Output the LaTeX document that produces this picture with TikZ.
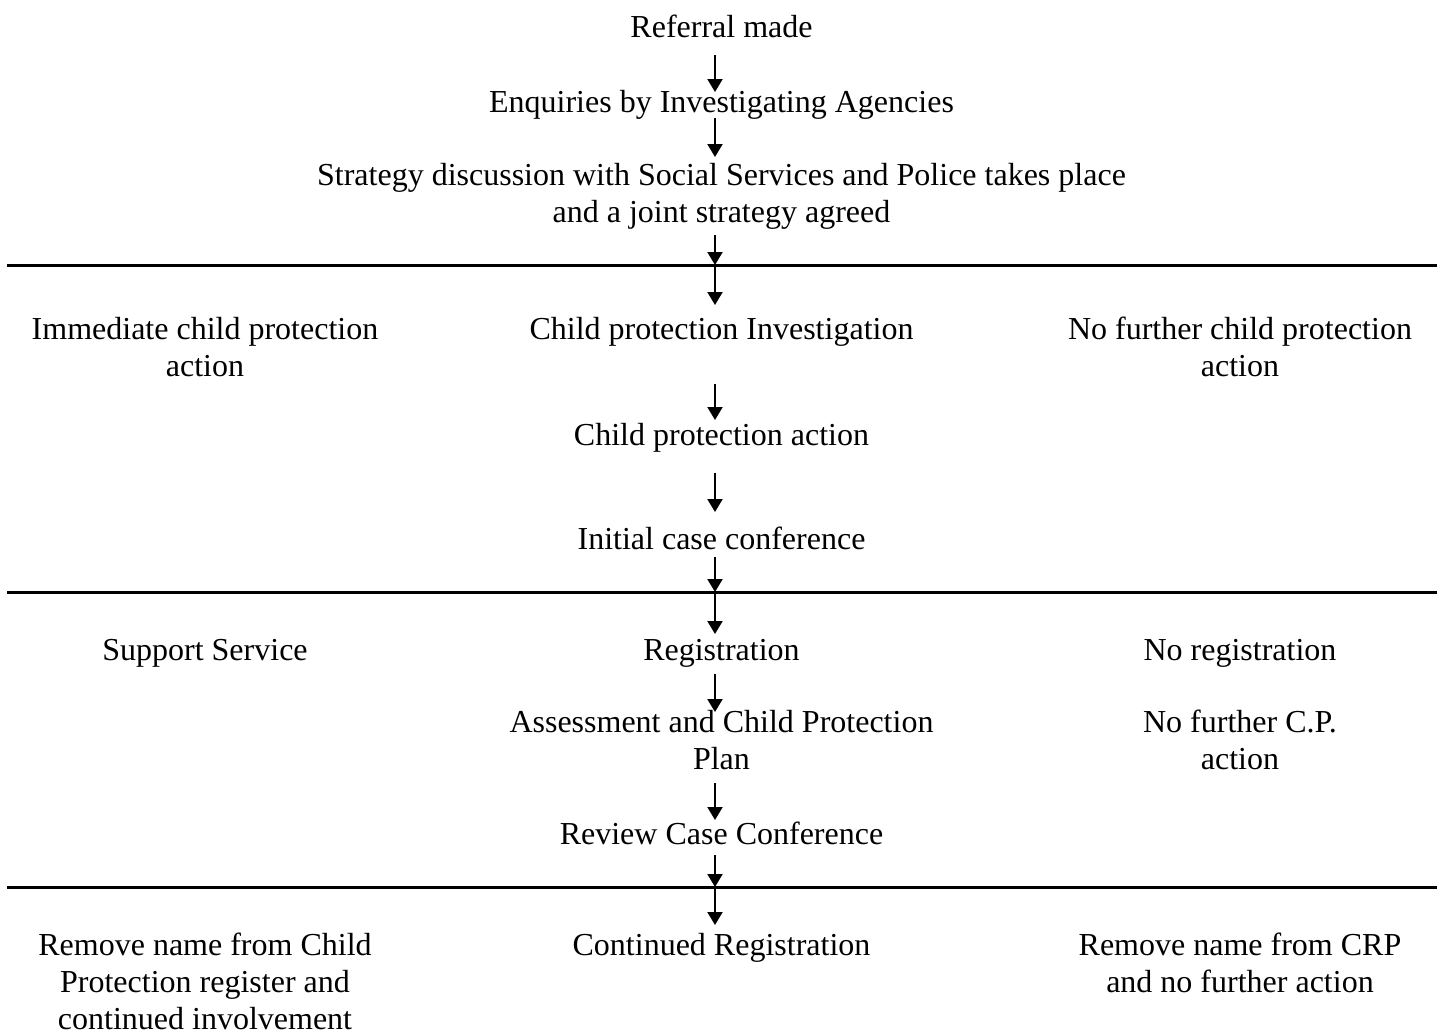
\documentclass[tikz,border=0pt]{standalone}
\usepackage{fontspec}
\setmainfont{Liberation Serif}
\usetikzlibrary{arrows.meta,calc}
\begin{document}
\begin{tikzpicture}[x=0.01cm,y=-0.01cm]

      % Every label is placed by the baseline of its last line, with no padding round it
      \tikzstyle{stage}=[anchor=base, inner sep=0pt, align=center, font=\fontsize{9.1pt}{10.5pt}\selectfont]
      \tikzstyle{flow}=[-{Triangle[width=0.15cm,length=0.13cm]}, line width=0.02cm]
      \tikzstyle{divider}=[line width=0.03cm]

      \def\mx{721.5}    % centre column
      \def\lx{205}      % left column
      \def\rx{1240}     % right column
      \def\ax{-6.5}     % the arrows sit a little left of the centre text

      \useasboundingbox (0,0) rectangle (1442,1032);

      % Stage 1
      \node[stage] (ref) at (\mx,37)  {Referral made};
      \node[stage] (enq) at (\mx,112) {Enquiries by Investigating Agencies};
      \node[stage] (str) at (\mx,222) {Strategy discussion with Social Services and Police takes place\\and a joint strategy agreed};

      % Dividers across the page
      \coordinate (d1l) at (7,265);  \coordinate (d1r) at (1437,265);  \coordinate (d1) at (715,265);
      \coordinate (d2l) at (7,592);  \coordinate (d2r) at (1437,592);  \coordinate (d2) at (715,592);
      \coordinate (d3l) at (7,887);  \coordinate (d3r) at (1437,887);  \coordinate (d3) at (715,887);
      \draw[divider] (d1l) -- (d1r);
      \draw[divider] (d2l) -- (d2r);
      \draw[divider] (d3l) -- (d3r);

      % Stage 2
      \node[stage] (imm) at (\lx,376) {Immediate child protection\\action};
      \node[stage] (cpi) at (\mx,339) {Child protection Investigation};
      \node[stage] (nfa) at (\rx,376) {No further child protection\\action};
      \node[stage] (cpa) at (\mx,445) {Child protection action};
      \node[stage] (icc) at (\mx,549) {Initial case conference};

      % Stage 3
      \node[stage] (sup) at (\lx,660) {Support Service};
      \node[stage] (reg) at (\mx,660) {Registration};
      \node[stage] (nor) at (\rx,660) {No registration};
      \node[stage] (ass) at (\mx,769) {Assessment and Child Protection\\Plan};
      \node[stage] (ncp) at (\rx,769) {No further C.P.\\action};
      \node[stage] (rev) at (\mx,844) {Review Case Conference};

      % Stage 4
      \node[stage] (rem) at (\lx,1029) {Remove name from Child\\Protection register and\\continued involvement};
      \node[stage] (con) at (\mx,955)  {Continued Registration};
      \node[stage] (crp) at (\rx,992)  {Remove name from CRP\\and no further action};

      % Arrows down the centre column
      \draw[flow] ($(ref.base)+(\ax,18)$) -- ($(enq.base)+(\ax,-20)$);
      \draw[flow] ($(enq.base)+(\ax,6)$)  -- ($(str.base)+(\ax,-65)$);
      \draw[flow] ($(str.base)+(\ax,13)$) -- (d1);
      \draw[flow] (d1) -- ($(cpi.base)+(\ax,-34)$);
      \draw[flow] ($(cpi.base)+(\ax,45)$) -- ($(cpa.base)+(\ax,-25)$);
      \draw[flow] ($(cpa.base)+(\ax,28)$) -- ($(icc.base)+(\ax,-37)$);
      \draw[flow] ($(icc.base)+(\ax,8)$)  -- (d2);
      \draw[flow] (d2) -- ($(reg.base)+(\ax,-26)$);
      \draw[flow] ($(reg.base)+(\ax,14)$) -- ($(ass.base)+(\ax,-57)$);
      \draw[flow] ($(ass.base)+(\ax,14)$) -- ($(rev.base)+(\ax,-24)$);
      \draw[flow] ($(rev.base)+(\ax,11)$) -- (d3);
      \draw[flow] (d3) -- ($(con.base)+(\ax,-30)$);

   \end{tikzpicture}
\end{document}
